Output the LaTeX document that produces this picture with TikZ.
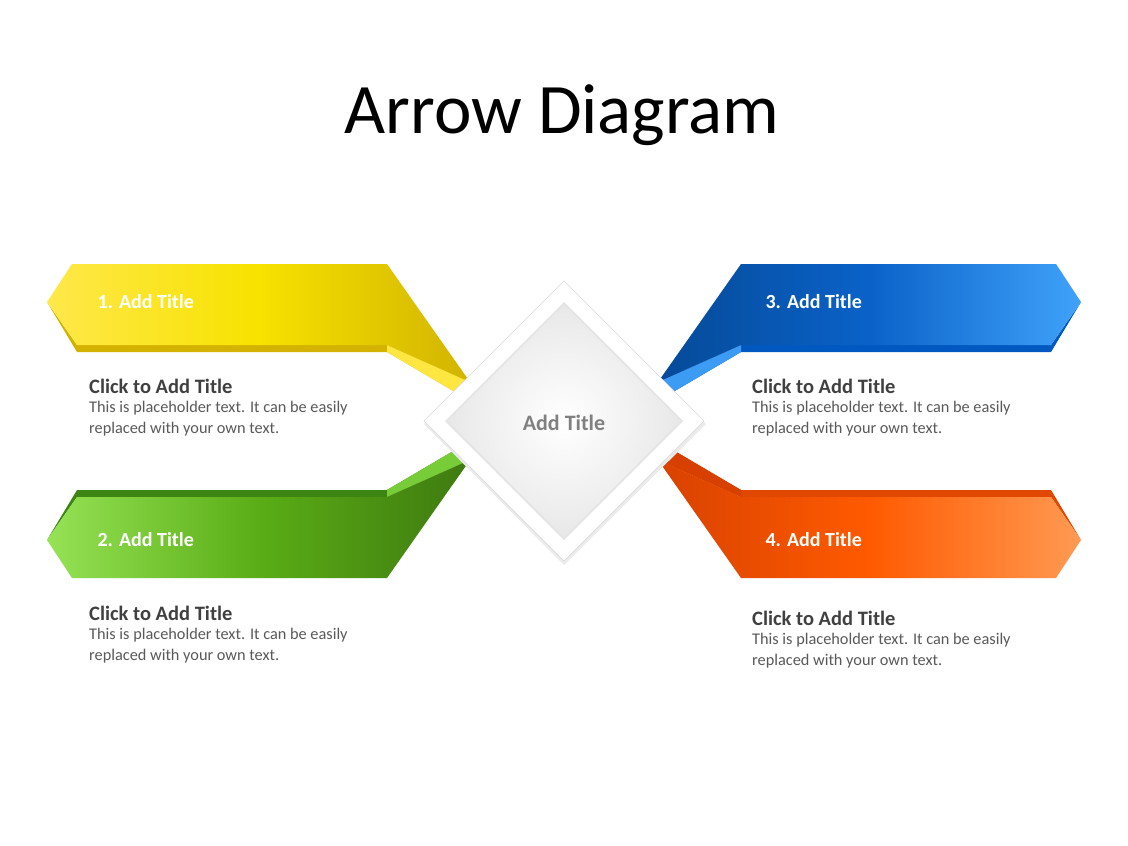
\documentclass[tikz,border=0pt]{standalone}
\usepackage{fontspec}
\setmainfont{Carlito}
\usetikzlibrary{shapes.geometric}
\definecolor{darktxt}{HTML}{404040}
\definecolor{bodytxt}{HTML}{595959}
\definecolor{y1}{HTML}{FFE84A}\definecolor{y2}{HTML}{F7E200}\definecolor{y3}{HTML}{D2B400}\definecolor{y4}{HTML}{D4B200}\definecolor{y5}{HTML}{FFE640}
\definecolor{g1}{HTML}{96E356}\definecolor{g2}{HTML}{5AAD16}\definecolor{g3}{HTML}{3E7A10}\definecolor{g4}{HTML}{3E8412}\definecolor{g5}{HTML}{78CC38}
\definecolor{b1}{HTML}{054A98}\definecolor{b2}{HTML}{0A62C8}\definecolor{b3}{HTML}{40A2FA}\definecolor{b4}{HTML}{0058C0}\definecolor{b5}{HTML}{3C9CF4}
\definecolor{o1}{HTML}{D84200}\definecolor{o2}{HTML}{FF5A00}\definecolor{o3}{HTML}{FF9A52}\definecolor{o4}{HTML}{E04800}\definecolor{o5}{HTML}{D84000}
\begin{document}
\begin{tikzpicture}[x=1pt,y=-1pt,
  lbl/.style={text=white,font=\bfseries\fontsize{20}{22}\selectfont,anchor=west},
  hd/.style={text=darktxt,font=\bfseries\fontsize{20.5}{22}\selectfont,anchor=base west,inner sep=0},
  bd/.style={text=bodytxt,font=\fontsize{16.3}{20.5}\selectfont,anchor=north west,align=left,inner sep=0}]
\useasboundingbox[fill=white] (0,0) rectangle (1128,846);
\node[font=\fontsize{71}{76}\selectfont] (title) at (562,115) {Arrow Diagram};
% #1 transform, #2 #3 #4 visual left/middle/right, #5 strip, #6 fold
\newcommand{\arm}[6]{%
 \begin{scope}[#1]
  \fill[#5] (47,302) -- (77,352) -- (387,352) -- (455,392) -- (470,382) -- (387,345) -- (77,345) -- cycle;
  \fill[#6] (387,345) -- (470,382) -- (455,392) -- (387,352) -- cycle;
  \shade[left color=#2,right color=#4,middle color=#3] (47,302) -- (72,264) -- (387,264) -- (470,382) -- (387,345) -- (77,345) -- cycle;
 \end{scope}}
\arm{}{y1}{y2}{y3}{y4}{y5}
\arm{shift={(0,842)},yscale=-1}{g1}{g2}{g3}{g4}{g5}
\arm{shift={(1128,0)},xscale=-1}{b1}{b2}{b3}{b4}{b5}
\arm{shift={(1128,842)},xscale=-1,yscale=-1}{o1}{o2}{o3}{o4}{o5}
% center diamond
\fill[black!8] (564,285) -- (706,424) -- (564,565) -- (424,424) -- cycle;
\filldraw[fill=white,draw=black!15] (564,281) -- (704,421) -- (564,561) -- (424,421) -- cycle;
\fill[black!10] (564,302) -- (683,421) -- (564,540) -- (445,421) -- cycle;
\shade[inner color=white,outer color=black!9] (564,305) -- (680,421) -- (564,537) -- (448,421) -- cycle;
\node[text=black!50,font=\bfseries\fontsize{22}{24}\selectfont] (c) at (564,423) {Add Title};
% labels
\node[lbl] (l1) at (94,302) {1. Add Title};
\node[lbl] (l2) at (94,540) {2. Add Title};
\node[lbl] (l3) at (762,302) {3. Add Title};
\node[lbl] (l4) at (762,540) {4. Add Title};
\node[hd] (h1) at (89,393) {Click to Add Title};
\node[bd] (b1) at (89,401) {This is placeholder text. It can be easily\\replaced with your own text.};
\node[hd] (h2) at (89,620) {Click to Add Title};
\node[bd] (b2) at (89,628) {This is placeholder text. It can be easily\\replaced with your own text.};
\node[hd] (h3) at (752,393) {Click to Add Title};
\node[bd] (b3) at (752,401) {This is placeholder text. It can be easily\\replaced with your own text.};
\node[hd] (h4) at (752,625) {Click to Add Title};
\node[bd] (b4) at (752,633) {This is placeholder text. It can be easily\\replaced with your own text.};
\end{tikzpicture}
\end{document}
